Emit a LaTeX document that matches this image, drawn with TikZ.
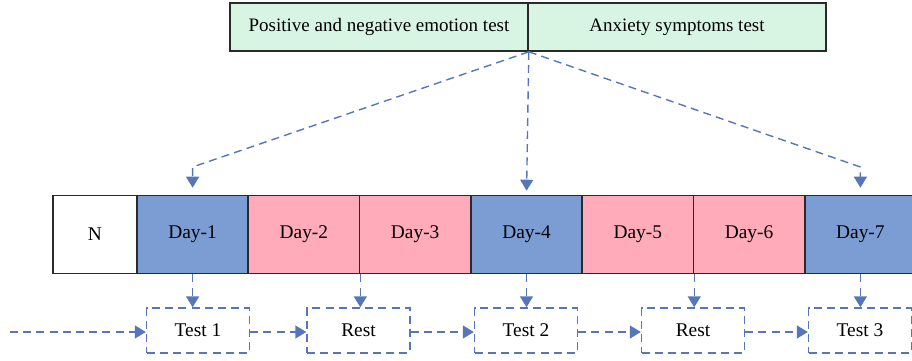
\documentclass[tikz,border=0pt]{standalone}
\usepackage{fontspec}
\setmainfont{Liberation Serif}
\usepackage{xcolor}
\usepackage{tikz}
\usetikzlibrary{arrows.meta}
\definecolor{dayblue}{HTML}{7B9DD3}
\definecolor{daypink}{HTML}{FFABBA}
\definecolor{testgreen}{HTML}{D8F5E3}
\definecolor{linkblue}{HTML}{5676BA}
\definecolor{cellline}{HTML}{2A2A2A}
\tikzset{
  >={Triangle[width=6.5pt,length=5.5pt]},
  daycell/.style={draw=cellline,line width=0.8pt,minimum width=55.65pt,
                  minimum height=39pt,inner sep=0pt,font=\fontsize{9.7}{11}\selectfont},
  testhead/.style={draw=cellline,line width=0.8pt,fill=testgreen,minimum width=149pt,
                   minimum height=24pt,inner sep=0pt,font=\fontsize{9.5}{11}\selectfont},
  testbox/.style={draw=linkblue,dashed,dash pattern=on 4pt off 2.6pt,line width=0.7pt,
                  minimum width=51.5pt,minimum height=22.5pt,inner sep=0pt,
                  font=\fontsize{9.7}{11}\selectfont},
  linkarrow/.style={->,draw=linkblue,line width=0.7pt,
                    dash pattern=on 4pt off 2.6pt},
}
\begin{document}
\begin{tikzpicture}[x=0.5pt,y=-0.5pt]
  \useasboundingbox (0,0) rectangle (912,360);
  % the two questionnaires on top
  \node[testhead] (emo) at (379,27) {Positive and negative emotion test};
  \node[testhead] (anx) at (677,27) {Anxiety symptoms test};
  % the day row
  \node[daycell,fill=white,minimum width=42pt] (cellN) at (95,234.5) {N};
  \node[daycell,fill=dayblue] (day1) at (192.6,234.5) {Day-1};
  \node[daycell,fill=daypink] (day2) at (303.9,234.5) {Day-2};
  \node[daycell,fill=daypink] (day3) at (415.2,234.5) {Day-3};
  \node[daycell,fill=dayblue] (day4) at (526.5,234.5) {Day-4};
  \node[daycell,fill=daypink] (day5) at (637.8,234.5) {Day-5};
  \node[daycell,fill=daypink] (day6) at (749.1,234.5) {Day-6};
  \node[daycell,fill=dayblue] (day7) at (860.4,234.5) {Day-7};
  % tests and rests below
  \node[testbox] (test1) at (198,330.5) {Test 1};
  \node[testbox] (rest1) at (358.5,330.5) {Rest};
  \node[testbox] (test2) at (526,330.5) {Test 2};
  \node[testbox] (rest2) at (693,330.5) {Rest};
  \node[testbox] (test3) at (860,330.5) {Test 3};
  \coordinate (start) at (10,332);
  \coordinate (bend) at (0,167);
  % from the questionnaires to the test days
  \draw[linkarrow,shorten >=3.5pt] (emo.south east) -- (day1.north |- bend) -- (day1.north);
  \draw[linkarrow,shorten >=2pt] (emo.south east) -- (day4.north);
  \draw[linkarrow,shorten >=3.5pt] (emo.south east) -- (day7.north |- bend) -- (day7.north);
  % from the days down
  \draw[linkarrow] (day1.south) -- (day1.south |- test1.north);
  \draw[linkarrow] (day2.south east) -- (day2.south east |- rest1.north);
  \draw[linkarrow] (day4.south) -- (day4.south |- test2.north);
  \draw[linkarrow] (day5.south east) -- (day5.south east |- rest2.north);
  \draw[linkarrow] (day7.south) -- (day7.south |- test3.north);
  % the chain along the bottom
  \draw[linkarrow] (start) -- (start -| test1.west);
  \draw[linkarrow] (test1.east |- start) -- (rest1.west |- start);
  \draw[linkarrow] (rest1.east |- start) -- (test2.west |- start);
  \draw[linkarrow] (test2.east |- start) -- (rest2.west |- start);
  \draw[linkarrow] (rest2.east |- start) -- (test3.west |- start);
\end{tikzpicture}
\end{document}
